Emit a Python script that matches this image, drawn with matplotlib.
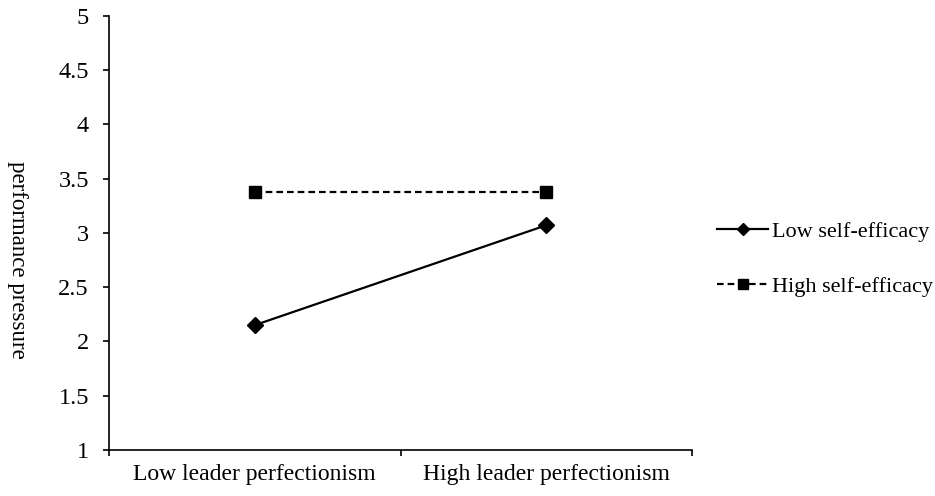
import matplotlib
matplotlib.use("Agg")
import matplotlib.pyplot as plt
import numpy as np

categories = ["Low leader perfectionism", "High leader perfectionism"]
low_se = [2.15, 3.07]
high_se = [3.38, 3.38]
series_labels = ["Low self-efficacy", "High self-efficacy"]
yticks = [1, 1.5, 2, 2.5, 3, 3.5, 4, 4.5, 5]
ytick_labels = ["1", "1.5", "2", "2.5", "3", "3.5", "4", "4.5", "5"]

plt.rcParams['font.family'] = ['Liberation Serif', 'DejaVu Serif']

fig = plt.figure(figsize=(9.35, 4.96), dpi=100)
ax = fig.add_axes([109/935, 1-450/496, (692-109)/935, (450-15.7)/496])

x = np.arange(len(categories))
ax.plot(x, low_se, color='black', lw=1.6, marker='D', ms=8, label=series_labels[0])
ax.plot(x, high_se, color='black', lw=1.6, ls=(0, (3, 1.8)), marker='s', ms=9, label=series_labels[1])

ax.set_xlim(-0.5, 1.5)
ax.set_ylim(1, 5)
ax.set_yticks(yticks)
ax.set_yticklabels(ytick_labels, fontsize=17.5)
ax.set_xticks(x)
ax.set_xticklabels(categories, fontsize=17)
ax.tick_params(axis='x', which='major', length=0, pad=10)
ax.set_xticks([-0.5, 0.5, 1.5], minor=True)
ax.tick_params(axis='x', which='minor', length=4.5, width=1.2, direction='out')
ax.tick_params(axis='y', length=4.5, width=1.2, direction='out', pad=10)

for s in ['top', 'right']:
    ax.spines[s].set_visible(False)
for s in ['left', 'bottom']:
    ax.spines[s].set_linewidth(1.2)

fig.text(17/935, 1-260/496, "performance pressure", fontsize=16.5,
         rotation=270, ha='center', va='center')

leg = ax.legend(loc='center left', bbox_to_anchor=(1.043, 0.44), frameon=False,
                borderaxespad=0, borderpad=0,
                fontsize=16, handlelength=2.3, handletextpad=0.15,
                labelspacing=1.55, markerscale=0.75)

fig.savefig("out.png", dpi=100)
